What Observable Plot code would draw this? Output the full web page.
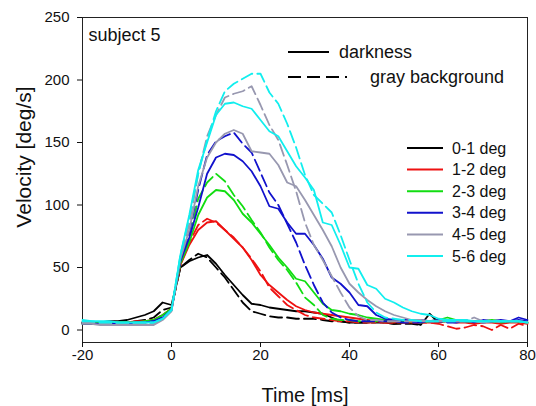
<!DOCTYPE html>
<html><head><meta charset="utf-8">
<script src="https://cdn.jsdelivr.net/npm/d3@7"></script>
<script src="https://cdn.jsdelivr.net/npm/@observablehq/plot@0.6"></script>
<style>body{margin:0;background:#fff}#chart{width:536px;height:406px}</style>
</head><body><div id="chart"></div>
<script>
// sample times [ms]
const time = [-20,-18,-16,-14,-12,-10,-8,-6,-4,-2,0,2,4,6,8,10,12,14,16,18,20,22,24,26,28,30,32,34,36,38,40,42,44,46,48,50,52,54,56,58,60,62,64,66,68,70,72,74,76,78,80];
const xTicks = [-20,0,20,40,60,80];
const yTicks = [0,50,100,150,200,250];
const degLabels = ["0-1 deg","1-2 deg","2-3 deg","3-4 deg","4-5 deg","5-6 deg"];
const degColors = ["#000000","#ee1111","#11dd11","#1111cc","#9898b0","#11eeee"];
const conditionLabels = ["darkness","gray background"];

// darkness (solid)
const dark01 = [6,6,6,7,7,8,10,12,15,22,20,50,55,58,60,53,44,36,28,21,20,18,17,16,15,15,14,13,10,7,6,6,6,7,6,5,6,6,4,13,6,null,null,null,null,null,null,null,null,null,null];
const dark12 = [6,6,6,6,6,6,7,7,8,12,17,52,68,80,86,87,80,73,66,56,44,36,30,24,19,16,14,13,12,11,10,9,8,7,6,6,7,6,6,6,6,7,6,6,5,6,6,5,6,6,5];
const dark23 = [6,6,6,6,6,6,6,7,8,12,17,53,70,92,106,112,111,104,93,86,77,68,58,50,41,39,30,21,16,15,13,12,10,9,8,8,8,7,7,7,8,10,8,7,7,7,8,7,7,7,6];
const dark34 = [5,5,5,5,5,5,6,6,7,10,16,55,74,98,125,138,141,140,135,127,115,99,97,86,77,77,68,57,42,37,30,20,19,12,9,8,8,8,8,7,8,7,7,8,6,8,7,8,7,10,8];
const dark45 = [5,5,4,4,4,4,4,4,4,8,15,57,80,115,138,150,157,160,157,143,142,141,132,118,115,104,92,80,67,50,37,30,24,19,15,12,10,8,8,7,7,7,7,7,7,6,7,7,7,7,6];
const dark56 = [8,7,7,7,6,6,6,6,6,9,16,60,92,128,150,172,181,182,179,177,168,159,155,143,131,122,112,86,84,68,50,49,36,33,25,22,18,15,13,12,9,8,8,8,7,7,7,7,7,7,6];

// gray background (dashed)
const gray01 = [5,5,5,5,6,6,7,8,10,16,18,50,56,61,58,50,42,32,22,15,13,11,10,10,9,9,9,8,7,7,6,6,6,6,6,5,5,5,4,null,null,null,null,null,null,null,null,null,null,null,null];
const gray12 = [6,6,5,6,6,6,6,7,8,12,17,52,70,84,89,86,80,74,66,57,47,34,27,20,16,12,10,9,8,7,7,6,6,6,6,6,6,6,6,6,5,3,1,2,4,3,0,4,1,5,3];
const gray23 = [5,5,5,6,6,6,6,6,7,11,17,54,72,105,118,125,119,108,99,88,78,66,56,48,38,26,20,12,9,8,8,7,7,7,7,7,7,7,6,7,7,7,8,7,7,7,7,6,7,7,6];
const gray34 = [6,6,5,5,5,5,5,6,7,10,16,56,78,112,140,151,155,158,149,142,126,110,100,85,70,52,36,22,14,10,8,7,7,7,7,7,6,6,6,7,7,6,6,7,7,6,7,7,7,8,7];
const gray45 = [6,6,5,5,5,5,5,5,5,9,16,58,85,125,155,172,186,189,191,195,180,164,152,132,111,86,68,56,43,30,18,11,8,8,7,7,7,7,7,7,7,8,7,7,10,7,7,7,7,7,6];
const gray56 = [7,7,6,6,6,6,6,6,6,9,16,60,90,125,152,175,191,197,201,205,205,190,181,165,146,124,108,101,94,76,56,37,22,14,10,9,8,8,7,7,7,7,7,7,7,7,7,7,7,7,6];

const darkSeries = [dark01,dark12,dark23,dark34,dark45,dark56];
const graySeries = [gray01,gray12,gray23,gray34,gray45,gray56];

const rows = [];
degLabels.forEach((deg,k) => {
  [["darkness",darkSeries[k]],["gray",graySeries[k]]].forEach(([cond,vals]) => {
    vals.forEach((v,i) => { if (v != null) rows.push({t: time[i], v, deg, cond}); });
  });
});

const lineMarks = [];
degLabels.forEach(deg => {
  lineMarks.push(Plot.line(rows.filter(d => d.deg === deg && d.cond === "darkness"), {x:"t", y:"v", stroke:"deg", strokeWidth:1.8}));
  lineMarks.push(Plot.line(rows.filter(d => d.deg === deg && d.cond === "gray"), {x:"t", y:"v", stroke:"deg", strokeWidth:1.8, strokeDasharray:"12,5"}));
});

const font = "'Liberation Sans', Arial, sans-serif";
const chart = Plot.plot({
  width:536, height:406,
  marginLeft:82, marginRight:9, marginTop:17, marginBottom:64,
  style:{fontFamily:font, fontSize:"15px", color:"#111", background:"#fff"},
  x:{domain:[-20,80]},
  y:{domain:[-10,250]},
  color:{domain:degLabels, range:degColors},
  marks:[
    Plot.frame({stroke:"#222", strokeWidth:1}),
    Plot.axisX({ticks:xTicks, tickSize:5, tickPadding:2, label:null, tickFormat:d => String(d)}),
    Plot.axisY({ticks:yTicks, tickSize:5, tickPadding:8, label:null, tickFormat:d => String(d)}),
    ...lineMarks,
    Plot.text(["Time [ms]"], {text:d => d, frameAnchor:"bottom", dy:53, lineAnchor:"middle", textAnchor:"middle", fontSize:20}),
    Plot.text(["subject 5"], {text:d => d, frameAnchor:"top-left", dx:6, dy:18, lineAnchor:"middle", textAnchor:"start", fontSize:18})
  ]
});
document.getElementById("chart").appendChild(chart);

const svg = d3.select(chart);
// y axis title
svg.append("text").attr("transform","translate(24,157) rotate(-90)")
  .attr("text-anchor","middle").attr("dy","0.35em")
  .attr("font-family",font).attr("font-size",21).attr("fill","#111")
  .text("Velocity [deg/s]");

// in-plot legends
const lg = svg.append("g").attr("font-family", font).attr("fill", "#111").attr("text-anchor","start");
const condY = [52, 77];
const condLineEnd = [329, 347];
const condTextX = [339, 370];
conditionLabels.forEach((lab,i) => {
  lg.append("line").attr("x1",288).attr("x2",condLineEnd[i]).attr("y1",condY[i]).attr("y2",condY[i])
    .attr("stroke","#000").attr("stroke-width",2).attr("stroke-dasharray", i ? "13,6" : null);
  lg.append("text").attr("x",condTextX[i]).attr("y",condY[i]).attr("dy","0.35em").attr("font-size",18).text(lab);
});
degLabels.forEach((lab,i) => {
  const y = 148 + i*21.6;
  lg.append("line").attr("x1",407).attr("x2",443).attr("y1",y).attr("y2",y)
    .attr("stroke",degColors[i]).attr("stroke-width",2);
  lg.append("text").attr("x",452).attr("y",y).attr("dy","0.35em").attr("font-size",16).text(lab);
});
</script>
</body></html>
